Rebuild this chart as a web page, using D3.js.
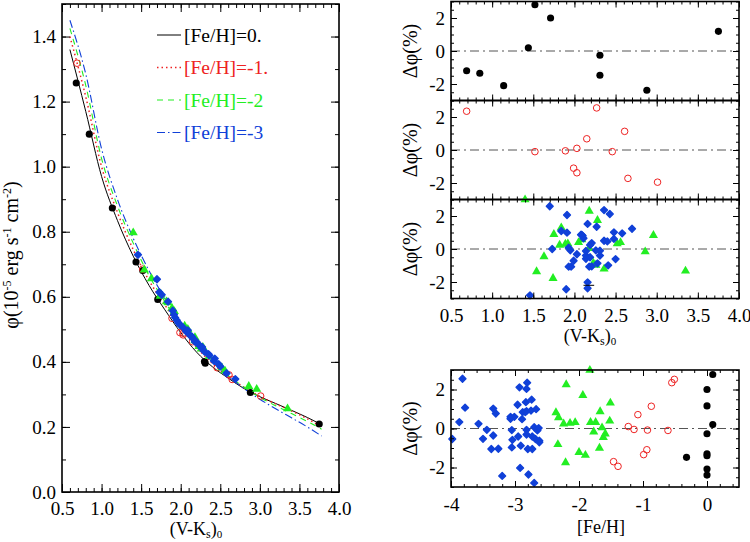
<!DOCTYPE html>
<html>
<head>
<meta charset="utf-8">
<script src="https://cdn.jsdelivr.net/npm/d3@7"></script>
<style>
  html, body { margin: 0; padding: 0; background: #fff; }
  svg text { font-family: "Liberation Serif", "DejaVu Serif", "Times New Roman", serif; }
</style>
</head>
<body>
<script>
// ---- data ----

// model curves phi(V-Ks) for the four metallicities
const curveVK = [0.6, 0.8, 1.0, 1.2, 1.4, 1.6, 1.8, 2.0, 2.2, 2.4, 2.6, 2.8, 3.0, 3.2, 3.4, 3.6, 3.78];
const phiFe0 = [1.36, 1.17, 0.97, 0.835, 0.725, 0.635, 0.56, 0.49, 0.43, 0.385, 0.35, 0.318, 0.293, 0.272, 0.251, 0.229, 0.207];
const phiFe1 = [1.40, 1.215, 1.0, 0.86, 0.745, 0.65, 0.575, 0.505, 0.445, 0.395, 0.355, 0.322, 0.294, 0.271, 0.249, 0.225, 0.200];
const phiFe2 = [1.425, 1.25, 1.025, 0.88, 0.765, 0.665, 0.585, 0.51, 0.45, 0.40, 0.358, 0.322, 0.291, 0.265, 0.241, 0.217, 0.193];
const phiFe3 = [1.45, 1.285, 1.055, 0.90, 0.78, 0.68, 0.595, 0.515, 0.452, 0.40, 0.356, 0.318, 0.285, 0.256, 0.228, 0.200, 0.172];
const legendLabels = ["[Fe/H]=0.", "[Fe/H]=-1.", "[Fe/H]=-2", "[Fe/H]=-3"];

// stars in the phi vs (V-Ks) panel
const starsFe0 = [[0.68,1.257],[0.845,1.10],[1.136,0.873],[1.435,0.707],[1.52,0.681],[1.71,0.592],[2.30,0.401],[2.31,0.396],[2.88,0.306],[3.75,0.209]];
const starsFe1 = [[0.69,1.318],[1.52,0.685],[1.89,0.534],[1.99,0.49],[2.03,0.483],[2.03,0.488],[2.15,0.462],[2.27,0.44],[2.46,0.382],[2.61,0.36],[2.65,0.346],[3.01,0.295]];
const starsFe2 = [[1.40,0.797],[1.54,0.683],[1.63,0.656],[1.74,0.602],[1.75,0.608],[1.82,0.585],[1.84,0.582],[1.89,0.565],[1.92,0.555],[2.05,0.51],[2.09,0.50],[2.18,0.475],[2.18,0.465],[2.23,0.448],[2.26,0.44],[2.28,0.445],[2.36,0.418],[2.52,0.382],[2.56,0.372],[2.86,0.325],[2.96,0.316],[3.35,0.256]];
const starsFe3 = [[1.46,0.729],[1.70,0.654],[1.73,0.614],[1.76,0.606],[1.84,0.585],[1.90,0.557],[1.915,0.545],[1.93,0.536],[1.95,0.528],[1.97,0.52],[1.99,0.514],[2.03,0.506],[2.07,0.493],[2.09,0.497],[2.12,0.481],[2.14,0.478],[2.16,0.471],[2.18,0.462],[2.20,0.461],[2.22,0.455],[2.265,0.442],[2.27,0.446],[2.30,0.432],[2.35,0.424],[2.36,0.42],[2.42,0.403],[2.43,0.41],[2.48,0.393],[2.50,0.386],[2.58,0.365],[2.69,0.347]];

// residuals (%) vs (V-Ks)
const resVkFe0 = [[0.69,-1.2],[0.85,-1.35],[1.14,-2.1],[1.44,0.2],[1.52,2.8],[1.71,2.0],[2.31,-0.26],[2.31,-1.47],[2.88,-2.38],[3.75,1.19]];
const resVkFe1 = [[0.69,2.35],[1.52,-0.1],[1.89,-0.05],[2.03,0.1],[1.99,-1.1],[2.03,-1.38],[2.15,0.68],[2.27,2.55],[2.46,-0.1],[2.61,1.13],[2.65,-1.72],[3.01,-1.95]];
const resVkFe2 = [[1.40,2.99],[1.54,-1.37],[1.63,-0.46],[1.74,-1.78],[1.75,0.89],[1.82,0.24],[1.84,1.29],[1.89,0.30],[1.92,0.32],[2.05,0.40],[2.09,0.57],[2.18,2.30],[2.18,0.04],[2.23,-0.85],[2.26,-0.97],[2.28,1.74],[2.36,-1.21],[2.52,0.32],[2.56,0.40],[2.86,-0.16],[2.96,0.83],[3.35,-1.33]];
const resVkFe3 = [[1.46,-2.81],[1.70,2.59],[1.73,0.0],[1.84,1.09],[1.90,-2.44],[1.91,2.06],[1.91,0.99],[1.93,0.08],[1.93,-1.07],[1.95,-0.08],[1.96,-1.07],[1.99,-0.71],[2.03,-0.32],[2.08,0.87],[2.09,0.85],[2.10,0.80],[2.11,0.65],[2.14,-0.12],[2.14,-0.40],[2.14,-0.59],[2.16,1.52],[2.16,-2.02],[2.16,-2.38],[2.18,-1.07],[2.19,0.24],[2.19,-0.50],[2.21,0.36],[2.21,-1.05],[2.26,-0.08],[2.27,1.35],[2.28,-0.87],[2.31,-0.10],[2.31,-0.40],[2.36,2.36],[2.36,0.50],[2.40,0.46],[2.41,-0.99],[2.43,2.12],[2.48,1.01],[2.48,0.61],[2.50,-0.61],[2.58,0.95],[2.70,1.23]];
const errBar = [2.175, -2.2, 0.065]; // x, y, half width

// residuals (%) vs [Fe/H]
const resFeFe0 = [[0.0,2.0],[0.0,1.16],[0.0,-0.27],[0.0,-1.3],[0.0,-1.4],[0.0,-2.08],[0.0,-2.39],[0.09,2.77],[0.09,0.2],[-0.32,-1.48]];
const resFeFe1 = [[-1.23,0.1],[-1.14,-0.05],[-1.08,0.71],[-0.93,-0.08],[-0.94,-1.09],[-0.99,-1.34],[-0.87,1.14],[-0.61,-0.1],[-0.55,2.35],[-0.51,2.52],[-1.46,-1.7],[-1.39,-1.94]];
const resFeFe2 = [[-2.36,0.82],[-2.32,0.56],[-2.20,2.25],[-2.24,0.24],[-2.14,0.27],[-2.06,0.31],[-2.33,-0.82],[-2.21,-1.75],[-2.0,-1.22],[-1.94,1.70],[-1.90,-1.37],[-1.83,2.99],[-1.82,0.32],[-1.74,0.32],[-1.77,-0.17],[-1.68,-1.0],[-1.67,0.87],[-1.64,0.04],[-1.62,-0.46],[-1.59,-0.27],[-1.52,0.39],[-1.51,1.31]];
const resFeFe3 = [[-3.82,2.55],[-3.78,1.07],[-3.87,0.33],[-3.98,-0.54],[-3.57,0.24],[-3.44,-0.07],[-3.50,-0.53],[-3.34,1.02],[-3.30,0.77],[-3.34,-0.36],[-3.37,-1.05],[-3.26,-1.04],[-3.20,-2.43],[-3.07,0.60],[-3.07,0.50],[-3.01,0.60],[-3.05,-0.08],[-3.04,-0.58],[-3.05,-0.97],[-2.95,-0.41],[-2.96,1.22],[-2.89,0.48],[-2.93,2.11],[-2.91,-0.88],[-2.92,-2.02],[-2.81,2.35],[-2.82,2.03],[-2.83,1.35],[-2.88,0.84],[-2.84,0.84],[-2.82,0.89],[-2.82,-0.07],[-2.82,-0.31],[-2.80,-1.05],[-2.79,-2.36],[-2.74,1.48],[-2.75,0.92],[-2.73,-0.41],[-2.73,-1.05],[-2.70,-2.79],[-2.70,0.07],[-2.67,0.99],[-2.68,-0.54],[-2.65,-0.10],[-2.63,0.02],[-2.62,-0.63],[-2.62,-0.71]];

// ticks
const vkMajor = [0.5, 1.0, 1.5, 2.0, 2.5, 3.0, 3.5, 4.0];
const phiMajor = [0.0, 0.2, 0.4, 0.6, 0.8, 1.0, 1.2, 1.4];
const resMajor = [-2, 0, 2];
const feMajor = [-4, -3, -2, -1, 0];

// ---- look ----
const serif = "\"Liberation Serif\", \"DejaVu Serif\", \"Times New Roman\", serif";
const colFe0 = "#000000";
const colFe1 = "#ee2222";
const colFe2 = "#22ee22";
const colFe3 = "#1040d8";
const dashFe = [null, "1.5,3", "6,5", "8,3,1.5,3"];
const widthFe = [1, 1.5, 1.1, 1.1];
const colors = [colFe0, colFe1, colFe2, colFe3];

const svg = d3.select("body").append("svg")
	.attr("width", 750)
	.attr("height", 542)
	.attr("font-family", serif);

//minor ticks between two majors (kept inside the domain)
const minorTicks = (lo, hi, step) => d3.range(Math.floor((hi - lo) / step + 1e-6) + 1)
	.map(i => +(lo + i * step).toFixed(4))
	.filter(v => v <= hi + 1e-9);

// axes with ticks on all four sides pointing inward, IDL style
const drawFrame = (g, x, y, o) => {
	const [x0, x1] = x.range();
	const [y0, y1] = y.range();
	const addAxis = (axisFn, scale, vals, size, fmt, pad, tr) => {
		const a = g.append("g").attr("transform", tr)
			.call(axisFn(scale).tickValues(vals).tickSize(size).tickPadding(pad).tickFormat(fmt || (() => "")));
		a.attr("font-family", null).attr("font-size", null);
		a.select(".domain").remove();
		a.selectAll("line").attr("stroke", "#000").attr("stroke-width", 1);
		a.selectAll("text").style("font-size", o.fontSize).attr("fill", "#000");
		return a;
	};
	const xMinor = minorTicks(x.domain()[0], x.domain()[1], o.xStep);
	const yMinor = minorTicks(y.domain()[0], y.domain()[1], o.yStep);
	addAxis(d3.axisBottom, x, xMinor, -o.minor, null, 0, `translate(0,${y0})`);
	addAxis(d3.axisBottom, x, o.xMajor, -o.major, o.xFmt, o.xPad, `translate(0,${y0})`);
	addAxis(d3.axisTop, x, xMinor, -o.minor, null, 0, `translate(0,${y1})`);
	addAxis(d3.axisTop, x, o.xMajor, -o.major, null, 0, `translate(0,${y1})`);
	addAxis(d3.axisLeft, y, yMinor, -o.minor, null, 0, `translate(${x0},0)`);
	addAxis(d3.axisLeft, y, o.yMajor, -o.major, o.yFmt, o.yPad, `translate(${x0},0)`);
	addAxis(d3.axisRight, y, yMinor, -o.minor, null, 0, `translate(${x1},0)`);
	addAxis(d3.axisRight, y, o.yMajor, -o.major, null, 0, `translate(${x1},0)`);
	g.append("rect")
		.attr("x", x0).attr("y", y1)
		.attr("width", x1 - x0).attr("height", y0 - y1)
		.attr("fill", "none").attr("stroke", "#000").attr("stroke-width", 1.6);
};

// markers for each metallicity group
const drawStars = (g, data, x, y, kind) => {
	const sel = g.append("g").selectAll("path").data(data).join("path")
		.attr("transform", d => `translate(${x(d[0])},${y(d[1])})`);
	if (kind === 0) sel.attr("d", d3.symbol(d3.symbolCircle, 40)).attr("fill", colFe0);
	else if (kind === 1) sel.attr("d", d3.symbol(d3.symbolCircle, 34)).attr("fill", "none").attr("stroke", colFe1).attr("stroke-width", 1);
	else if (kind === 2) sel.attr("d", d3.symbol(d3.symbolTriangle, 36)).attr("fill", colFe2);
	else sel.attr("d", d3.symbol(d3.symbolDiamond2, 30)).attr("fill", colFe3)
		.attr("stroke", colFe3).attr("stroke-width", 1.4).attr("stroke-linejoin", "round");
};

const vkTitle = (g, cx, y) => {
	const t = g.append("text").attr("x", cx).attr("y", y)
		.attr("text-anchor", "middle").style("font-size", "18px");
	t.append("tspan").text("(V-K");
	t.append("tspan").attr("dy", 3).style("font-size", "12px").text("s");
	t.append("tspan").attr("dy", -3).text(")");
	t.append("tspan").attr("dy", 3).style("font-size", "11px").text("0");
};

const resTitle = (g, cx, cy) => {
	g.append("text")
		.attr("transform", `translate(${cx},${cy}) rotate(-90)`)
		.attr("text-anchor", "middle")
		.style("font-size", "20px")
		.text("Δφ(%)");
};

// ---- left panel: phi vs (V-Ks) ----
const xL = d3.scaleLinear().domain([0.5, 4.0]).range([62, 339]);
const yL = d3.scaleLinear().domain([0, 1.5]).range([492, 4]);
const left = svg.append("g");

const phiCurves = [phiFe0, phiFe1, phiFe2, phiFe3];
const line = d3.line().x(d => xL(d[0])).y(d => yL(d[1])).curve(d3.curveMonotoneX);
phiCurves.forEach((phi, i) => {
	left.append("path")
		.attr("d", line(curveVK.map((v, k) => [v, phi[k]])))
		.attr("fill", "none")
		.attr("stroke", colors[i])
		.attr("stroke-width", widthFe[i])
		.attr("stroke-dasharray", dashFe[i]);
});

[starsFe0, starsFe1, starsFe2, starsFe3].forEach((s, i) => drawStars(left, s, xL, yL, i));

drawFrame(left, xL, yL, {
	xMajor: vkMajor, yMajor: phiMajor, xStep: 0.1, yStep: 0.1,
	major: 8, minor: 4, xPad: 10, yPad: 6, fontSize: "19px",
	xFmt: d => d.toFixed(1), yFmt: d => d.toFixed(1)
});

// legend
legendLabels.forEach((lab, i) => {
	const ly = 35 + i * 32.5;
	left.append("line")
		.attr("x1", 157).attr("x2", 181).attr("y1", ly).attr("y2", ly)
		.attr("stroke", colors[i]).attr("stroke-width", widthFe[i])
		.attr("stroke-dasharray", dashFe[i]);
	left.append("text")
		.attr("x", 184).attr("y", ly + 6.5)
		.attr("fill", colors[i])
		.style("font-size", "19.5px")
		.text(lab);
});

vkTitle(left, 196, 535);

// y title with superscripts
const yt = left.append("text")
	.attr("transform", "translate(18,255) rotate(-90)")
	.attr("text-anchor", "middle")
	.style("font-size", "20px");
yt.append("tspan").text("φ(10");
yt.append("tspan").attr("dy", -7).style("font-size", "12px").text("-5");
yt.append("tspan").attr("dy", 7).text(" erg s");
yt.append("tspan").attr("dy", -7).style("font-size", "12px").text("-1");
yt.append("tspan").attr("dy", 7).text("  cm");
yt.append("tspan").attr("dy", -7).style("font-size", "12px").text("-2");
yt.append("tspan").attr("dy", 7).text(")");

// ---- right panels: residuals ----
const xR = d3.scaleLinear().domain([0.5, 4.0]).range([451, 739]);
const panelTops = [1.5, 100.5, 199.5];
const resSets = [resVkFe0, resVkFe1, resVkFe3];

const zeroLine = (g, x, y) => {
	g.append("line")
		.attr("x1", x.range()[0]).attr("x2", x.range()[1])
		.attr("y1", y(0)).attr("y2", y(0))
		.attr("stroke", "#555").attr("stroke-width", 1)
		.attr("stroke-dasharray", "9,4,2,4");
};

panelTops.forEach((top, p) => {
	const y = d3.scaleLinear().domain([-3, 3]).range([top + 99, top]);
	const g = svg.append("g");
	zeroLine(g, xR, y);
	if (p === 2) {
		// third panel holds both [Fe/H]=-2 and -3 stars
		drawStars(g, resVkFe2, xR, y, 2);
		drawStars(g, resVkFe3, xR, y, 3);
		g.append("line")
			.attr("x1", xR(errBar[0] - errBar[2])).attr("x2", xR(errBar[0] + errBar[2]))
			.attr("y1", y(errBar[1])).attr("y2", y(errBar[1]))
			.attr("stroke", "#000").attr("stroke-width", 1);
	} else {
		drawStars(g, resSets[p], xR, y, p);
	}
	drawFrame(g, xR, y, {
		xMajor: vkMajor, yMajor: resMajor, xStep: 0.1, yStep: 0.5,
		major: 6, minor: 3, xPad: 10, yPad: 6, fontSize: "19px",
		xFmt: p === 2 ? (d => d.toFixed(1)) : null, yFmt: d => String(d)
	});
	resTitle(g, 417, top + 49.5);
	if (p === 2) vkTitle(g, 590, 342);
});

// bottom panel: residuals vs [Fe/H]
const xF = d3.scaleLinear().domain([-4, 0.5]).range([451, 739]);
const yF = d3.scaleLinear().domain([-3, 3]).range([487, 370]);
const bottom = svg.append("g");
zeroLine(bottom, xF, yF);
[resFeFe3, resFeFe2, resFeFe1, resFeFe0].forEach((s, i) => drawStars(bottom, s, xF, yF, 3 - i));
drawFrame(bottom, xF, yF, {
	xMajor: feMajor, yMajor: resMajor, xStep: 0.2, yStep: 0.5,
	major: 6, minor: 3, xPad: 11, yPad: 6, fontSize: "19px",
	xFmt: d => String(d), yFmt: d => String(d)
});
resTitle(bottom, 417, 428.5);
bottom.append("text")
	.attr("x", 601).attr("y", 533)
	.attr("text-anchor", "middle")
	.style("font-size", "18px")
	.text("[Fe/H]");
</script>
</body>
</html>
